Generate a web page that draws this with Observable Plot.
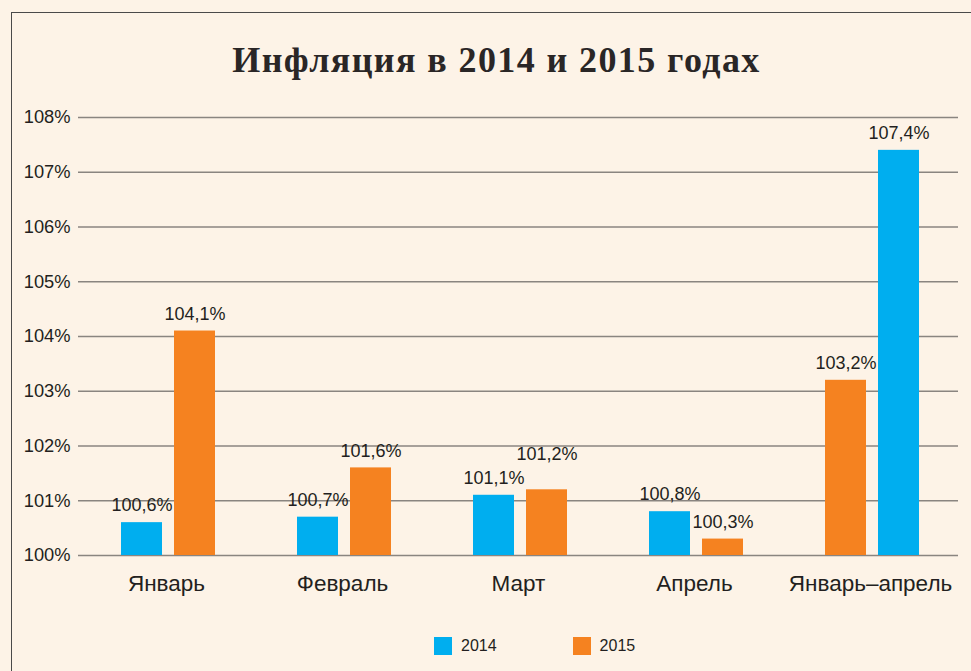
<!DOCTYPE html>
<html>
<head>
<meta charset="utf-8">
<script src="https://cdn.jsdelivr.net/npm/d3@7"></script>
<script src="https://cdn.jsdelivr.net/npm/@observablehq/plot@0.6"></script>
<style>
  html, body { margin: 0; padding: 0; }
  body { width: 971px; height: 671px; overflow: hidden; background: #fdf3e7; position: relative; font-family: "Liberation Sans", Arial, sans-serif; color: #231f20; }
  #frame { position: absolute; left: 11px; top: 12px; width: 980px; height: 680px; border-top: 1.6px solid #4a4a4a; border-left: 1.6px solid #4a4a4a; }
  #title { position: absolute; top: 39px; left: 22px; width: 949px; text-align: center; font-family: "Liberation Serif", "DejaVu Serif", serif; font-weight: bold; font-size: 36px; color: #2a2626; letter-spacing: 1.4px; }
  #chart { position: absolute; top: 90px; left: 0; }
  #chart svg [aria-label^="fx-axis"] text { font-size: 22.5px; fill: #231f20; }
  #chart svg [aria-label^="y-axis"] text { font-size: 18.3px; fill: #231f20; }
  #legend { position: absolute; top: 637px; left: 434px; display: flex; gap: 76px; font-size: 16px; color: #231f20; }
  .item { display: flex; align-items: center; gap: 9px; }
  .sw { width: 18px; height: 18px; display: inline-block; }
</style>
</head>
<body>
<div id="frame"></div>
<div id="title">Инфляция в 2014 и 2015 годах</div>
<div id="chart"></div>
<div id="legend"></div>
<script>
const categories = ["Январь", "Февраль", "Март", "Апрель", "Январь–апрель"];
const values2014 = [100.6, 100.7, 101.1, 100.8, 107.4];
const values2015 = [104.1, 101.6, 101.2, 100.3, 103.2];
const series = ["2014", "2015"];
const seriesColors = ["#00aeef", "#f58220"];
// order of the bars inside each group, as in the picture
const barOrder = [["2014","2015"],["2014","2015"],["2014","2015"],["2014","2015"],["2015","2014"]];
const yTicks = [100, 101, 102, 103, 104, 105, 106, 107, 108];

const data = [];
categories.forEach((c, i) => {
  [values2014[i], values2015[i]].forEach((v, k) => {
    const year = series[k];
    data.push({category: c, year, value: v, slot: barOrder[i].indexOf(year)});
  });
});
const fmt = v => v.toFixed(1).replace(".", ",") + "%";
// the one label that is lifted in the picture to avoid touching its neighbour
const lifted = d => d.category === "Март" && d.year === "2015";

const chart = Plot.plot({
  width: 971,
  height: 520,
  marginLeft: 77,
  marginRight: 13,
  marginTop: 27,
  marginBottom: 55,
  style: {background: "transparent", fontFamily: "Liberation Sans, Arial, sans-serif", color: "#231f20", fontSize: "18px"},
  fx: {domain: categories, padding: 0, label: null, axis: "bottom", tickSize: 0, tickPadding: 20},
  x: {domain: [0, 1], paddingInner: 0.226, paddingOuter: 0.773, align: 0.53, axis: null},
  y: {domain: [100, 108], ticks: yTicks, tickFormat: d => d + "%", tickSize: 0, tickPadding: 8, label: null},
  color: {domain: series, range: seriesColors},
  marks: [
    Plot.ruleY(yTicks, {stroke: "#8a8580", strokeWidth: 1.4}),
    Plot.barY(data, {fx: "category", x: "slot", y1: 100, y2: "value", fill: "year"}),
    Plot.text(data, {filter: d => !lifted(d), fx: "category", x: "slot", y: "value", text: d => fmt(d.value), dy: -17, fontSize: 18, fill: "#231f20"}),
    Plot.text(data, {filter: lifted, fx: "category", x: "slot", y: "value", text: d => fmt(d.value), dy: -36, fontSize: 18, fill: "#231f20"})
  ]
});
document.getElementById("chart").appendChild(chart);

const legend = document.getElementById("legend");
series.forEach((s, i) => {
  const it = document.createElement("div");
  it.className = "item";
  it.innerHTML = `<span class="sw" style="background:${seriesColors[i]}"></span><span>${s}</span>`;
  legend.appendChild(it);
});
</script>
</body>
</html>
